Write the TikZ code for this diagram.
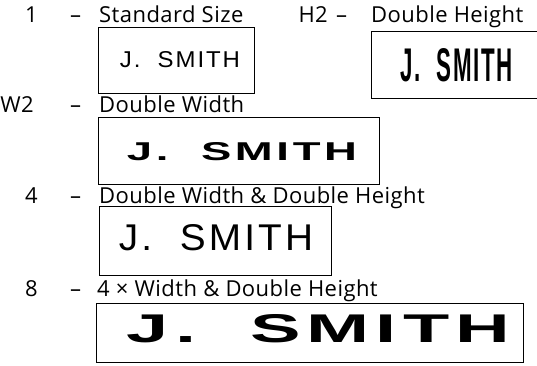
\documentclass[tikz,border=0pt]{standalone}
\usepackage{fontspec}
\usepackage{graphicx}
\setmainfont[LetterSpace=2]{Open Sans}
\newfontfamily\printfont[LetterSpace=8]{Liberation Sans}
\tikzset{
  lbl/.style={inner sep=0pt, anchor=base west, font=\fontsize{22}{23}\selectfont},
  num/.style={inner sep=0pt, anchor=base east, font=\fontsize{22}{23}\selectfont},
  dsh/.style={inner sep=0pt, anchor=base west, font=\fontsize{22}{23}\selectfont},
  frame/.style={draw=black, line width=0.8pt},
  sample/.style={inner sep=0pt, anchor=center}
}
\begin{document}
\begin{tikzpicture}[x=1pt,y=-1pt]
\useasboundingbox (0,0) rectangle (537,366);
% row 1
\node[num] (n1) at (38,23) {1};
\node[dsh] (d1) at (70,23) {–};
\node[lbl] (l1) at (99,23) {Standard Size};
\draw[frame] (98,27) rectangle (254,93);
\node[sample] (s1) at (180,60) {\resizebox{120pt}{16pt}{\printfont J.\ \ SMITH}};
% H2
\node[num] (nh) at (328,23) {H2};
\node[dsh] (dh) at (336,23) {–};
\node[lbl] (lh) at (371,23) {Double Height};
\draw[frame] (540,31) -- (371,31) -- (371,98) -- (540,98);
\node[sample] (sh) at (456.5,65.5) {\resizebox{113pt}{33pt}{\printfont\bfseries J.\ \ SMITH}};
% W2
\node[num] (nw) at (34,113) {W2};
\node[dsh] (dw) at (70,113) {–};
\node[lbl] (lw) at (99,113) {Double Width};
\draw[frame] (98,117) rectangle (379,184);
\node[sample] (sw) at (242,152) {\resizebox{230pt}{18pt}{\printfont\bfseries J.\ \ SMITH}};
% 4
\node[num] (n4) at (38,203) {4};
\node[dsh] (d4) at (70,203) {–};
\node[lbl] (l4) at (99,203) {Double Width \& Double Height};
\draw[frame] (99,206) rectangle (331,275);
\node[sample] (s4) at (216,238) {\resizebox{194pt}{26pt}{\printfont J.\ \ SMITH}};
% 8
\node[num] (n8) at (38,296) {8};
\node[dsh] (d8) at (70,296) {–};
\node[lbl] (l8) at (97,296) {4 × Width \& Double Height};
\draw[frame] (96,303) rectangle (523,362);
\node[sample] (s8) at (318.5,329) {\resizebox{383pt}{28pt}{\printfont\bfseries J.\ \ SMITH}};
\end{tikzpicture}
\end{document}
